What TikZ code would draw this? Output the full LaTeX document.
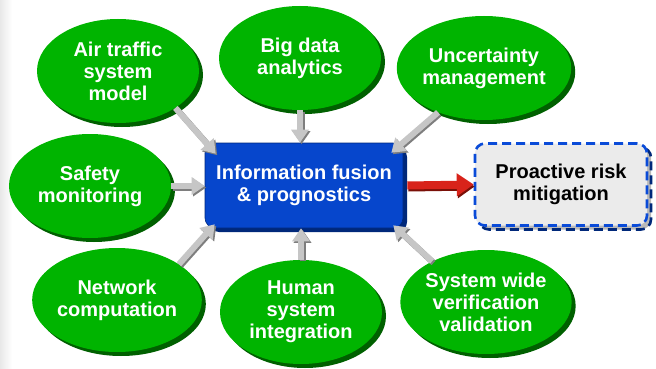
\documentclass[tikz,border=0pt]{standalone}
\usepackage{fontspec}
\setmainfont{Liberation Sans}
\usetikzlibrary{arrows.meta,shapes.geometric,shadows,calc}

\definecolor{leaf}{HTML}{00B400}
\definecolor{leafdark}{HTML}{006000}
\definecolor{royal}{HTML}{0646CC}
\definecolor{royaldark}{HTML}{00287A}
\definecolor{dashblue}{HTML}{0A4BD8}
\definecolor{paper}{HTML}{EBEBEB}
\definecolor{steel}{HTML}{C6C6C6}
\definecolor{steeldark}{HTML}{7E7E7E}
\definecolor{signal}{HTML}{D8231A}
\definecolor{signaldark}{HTML}{7A1008}

\begin{document}
\begin{tikzpicture}[x=1pt,y=-1pt,
  txt/.style={font=\fontsize{20}{22}\selectfont\bfseries, align=center},
  bubble/.style={txt, ellipse, fill=leaf, text=white,
    minimum width=162pt, minimum height=104pt, inner sep=0pt,
    general shadow={shadow xshift=4pt, shadow yshift=-4pt, fill=leafdark}},
  hub/.style={txt, rectangle, rounded corners=10pt, fill=royal,
    draw=royaldark, line width=0.6pt, text=white,
    minimum width=198pt, minimum height=85pt,
    general shadow={shadow xshift=4pt, shadow yshift=-4pt, fill=royaldark}},
  goal/.style={txt, rectangle, rounded corners=10pt, fill=paper,
    draw=dashblue, line width=2.6pt, dash pattern=on 9pt off 5pt, text=black,
    minimum width=172pt, minimum height=82pt,
    general shadow={shadow xshift=4pt, shadow yshift=-4pt, fill=gray!55,
      draw=royaldark, line width=2.6pt, dash pattern=on 9pt off 5pt}},
  feed/.style={line width=6pt, draw=steel, -{Triangle[length=13pt,width=17pt]}},
  feedshade/.style={feed, draw=steeldark, fill=steeldark,
    transform canvas={shift={(1.5pt,-1.5pt)}}},
  push/.style={line width=8pt, draw=signal, -{Triangle[length=17pt,width=22pt]}},
  pushshade/.style={push, draw=signaldark, fill=signaldark,
    transform canvas={shift={(1pt,-2pt)}}}
]
\useasboundingbox (0,0) rectangle (656,369);
\fill[white] (0,0) rectangle (656,369);
\shade[left color=gray!18, right color=white] (0,0) rectangle (12,369);

% surrounding research areas
\node[bubble] (air)    at (118,71)  {Air traffic\\system\\model};
\node[bubble] (big)    at (300,58)  {Big data\\analytics};
\node[bubble] (unc)    at (484,68)  {Uncertainty\\management};
\node[bubble] (safety) at (90,186)  {Safety\\monitoring};
\node[bubble] (net)    at (117,300) {Network\\computation};
\node[bubble] (human)  at (301,312) {Human\\system\\integration};
\node[bubble] (sys)    at (486,302) {System wide\\verification\\validation};

% central hub and outcome
\node[hub]  (fusion) at (304,185.5) {Information fusion\\\& prognostics};
\node[goal] (risk)   at (561,184.5) {Proactive risk\\mitigation};

% arrow ends on the hub
\coordinate (t1) at ([shift={(11pt,-11pt)}]fusion.north west);
\coordinate (t2) at (big.south |- fusion.north);
\coordinate (t3) at ([shift={(-12pt,-10pt)}]fusion.north east);
\coordinate (t4) at (safety.east -| fusion.west);
\coordinate (t5) at ([shift={(10pt,4pt)}]fusion.south west);
\coordinate (t6) at (human.north |- fusion.south);
\coordinate (t7) at ([shift={(-10pt,3pt)}]fusion.south east);
\coordinate (s3) at (unc.-136);
\coordinate (s5) at (net.30);
\coordinate (s7) at (sys.143);

\foreach \s/\t in {air.south east/t1, big.south/t2, s3/t3, safety.east/t4,
                   s5/t5, human.north/t6, s7/t7}
  \draw[feedshade] (\s) -- (\t);
\foreach \s/\t in {air.south east/t1, big.south/t2, s3/t3, safety.east/t4,
                   s5/t5, human.north/t6, s7/t7}
  \draw[feed] (\s) -- (\t);

\coordinate (r0) at ([xshift=4pt]fusion.east);
\draw[pushshade] (r0) -- (risk.west);
\draw[push] (r0) -- (risk.west);
\end{tikzpicture}
\end{document}
